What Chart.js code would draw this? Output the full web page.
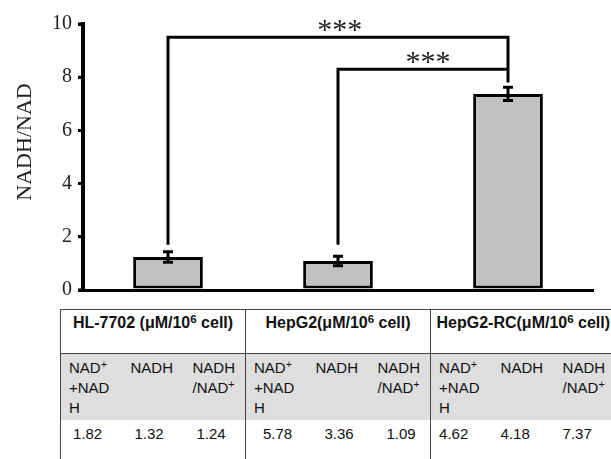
<!DOCTYPE html>
<html>
<head>
<meta charset="utf-8">
<script src="https://cdn.jsdelivr.net/npm/chart.js@4.4.1/dist/chart.umd.min.js"></script>
<style>
  html, body { margin: 0; padding: 0; background: #fff; }
  body { width: 611px; height: 459px; overflow: hidden; position: relative; }
  #wrap { position: absolute; left: 0; top: 0; width: 611px; height: 308px; }
  #tbl { position: absolute; left: 60px; top: 309px; border-collapse: collapse; table-layout: fixed; width: 555px;
         font-family: "Liberation Sans", Arial, sans-serif; color: #111; }
  #tbl td, #tbl th { padding: 0; vertical-align: top; }
  #tbl th { font-weight: bold; font-size: 16px; height: 44px; text-align: center; padding-top: 4px; box-sizing: border-box;
            border-top: 1px solid #444; border-bottom: 1px solid #444; border-left: 1px solid #444; white-space: nowrap; }
  #tbl tr.sub td { background: #dedede; font-size: 15px; line-height: 20px; height: 66px; padding-top: 4px; padding-left: 8px; box-sizing: border-box; }
  #tbl tr.val td { font-size: 15px; line-height: 20px; height: 60px; padding-top: 4px; box-sizing: border-box; }
  #tbl td.g { border-left: 1px solid #444; }
  sup { font-size: 72%; vertical-align: 0; position: relative; top: -0.45em; line-height: 0; }
</style>
</head>
<body>
<div id="wrap"><canvas id="c"></canvas></div>
<table id="tbl"></table>
<script>
// ---- data ----
const categories = ['HL-7702', 'HepG2', 'HepG2-RC'];
const ratioValues = [1.24, 1.09, 7.37];
const ratioErrors = [0.2, 0.18, 0.25];
const yTicks = [0, 2, 4, 6, 8, 10];
const yTitle = 'NADH/NAD';
// significance brackets
const bracketFrom = [0, 1];
const bracketTo = [2, 2];
const bracketStartY = [1.7, 1.7];
const bracketEndY = [7.8, 8.3];
const bracketY = [9.5, 8.3];
const bracketLabels = ['***', '***'];
const bracketLabelX = [1.01, 1.53];
// table
const tableGroups = ['HL-7702 (μM/10<sup>6</sup> cell)', 'HepG2(μM/10<sup>6</sup> cell)', 'HepG2-RC(μM/10<sup>6</sup> cell)'];
const tableSubHeaders = ['NAD<sup>+</sup><br>+NAD<br>H', 'NADH', 'NADH<br>/NAD<sup>+</sup>'];
const tableValues = [['1.82', '1.32', '1.24'], ['5.78', '3.36', '1.09'], ['4.62', '4.18', '7.37']];
const valuePad = [12, 17, 8];

(function buildTable() {
  const t = document.getElementById('tbl');
  let html = '<colgroup>';
  for (let g = 0; g < 3; g++) html += '<col style="width:62px"><col style="width:62px"><col style="width:61px">';
  html += '</colgroup><tr>';
  tableGroups.forEach(g => { html += '<th colspan="3">' + g + '</th>'; });
  html += '</tr><tr class="sub">';
  tableGroups.forEach(() => {
    tableSubHeaders.forEach((s, i) => { html += '<td' + (i === 0 ? ' class="g"' : '') + '>' + s + '</td>'; });
  });
  html += '</tr><tr class="val">';
  tableValues.forEach((row, g) => {
    row.forEach((v, i) => { html += '<td' + (i === 0 ? ' class="g"' : '') + ' style="padding-left:' + valuePad[g] + 'px">' + v + '</td>'; });
  });
  html += '</tr>';
  t.innerHTML = html;
})();

const overlay = {
  id: 'overlay',
  afterDraw(chart) {
    const ctx = chart.ctx;
    const x = chart.scales.x, y = chart.scales.y;
    const area = chart.chartArea;
    const meta = chart.getDatasetMeta(0);
    ctx.save();
    ctx.lineCap = 'butt';
    ctx.strokeStyle = '#000';
    // y axis line and ticks, reinforced
    ctx.lineWidth = 4;
    ctx.beginPath();
    ctx.moveTo(area.left, y.getPixelForValue(yTicks[yTicks.length - 1]) - 2);
    ctx.lineTo(area.left, y.getPixelForValue(0) + 1.5);
    ctx.stroke();
    ctx.lineWidth = 3;
    ctx.beginPath();
    yTicks.forEach(v => {
      const py = y.getPixelForValue(v);
      ctx.moveTo(area.left - 5, py);
      ctx.lineTo(area.left, py);
    });
    ctx.stroke();
    // error bars
    meta.data.forEach((bar, i) => {
      const top = y.getPixelForValue(ratioValues[i] + ratioErrors[i]);
      const bot = y.getPixelForValue(ratioValues[i] - ratioErrors[i]);
      ctx.beginPath();
      ctx.moveTo(bar.x, top); ctx.lineTo(bar.x, bot);
      ctx.moveTo(bar.x - 5, top); ctx.lineTo(bar.x + 5, top);
      ctx.moveTo(bar.x - 5, bot); ctx.lineTo(bar.x + 5, bot);
      ctx.stroke();
    });
    // brackets
    ctx.lineJoin = 'miter';
    for (let k = 0; k < bracketFrom.length; k++) {
      const x1 = x.getPixelForValue(bracketFrom[k]);
      const x2 = x.getPixelForValue(bracketTo[k]);
      const yb = y.getPixelForValue(bracketY[k]);
      ctx.beginPath();
      ctx.moveTo(x1, y.getPixelForValue(bracketStartY[k]));
      ctx.lineTo(x1, yb);
      ctx.lineTo(x2, yb);
      ctx.lineTo(x2, y.getPixelForValue(bracketEndY[k]));
      ctx.stroke();
      ctx.fillStyle = '#222';
      ctx.font = '30px "Liberation Serif", "Times New Roman", serif';
      ctx.textAlign = 'center';
      ctx.textBaseline = 'alphabetic';
      ctx.fillText(bracketLabels[k], x.getPixelForValue(bracketLabelX[k]), yb + 2);
    }
    // y axis title
    ctx.translate(25, (area.top + area.bottom) / 2 - 15);
    ctx.rotate(-Math.PI / 2);
    ctx.font = '22px "Liberation Serif", "Times New Roman", serif';
    ctx.fillStyle = '#222';
    ctx.textAlign = 'center';
    ctx.textBaseline = 'middle';
    ctx.fillText(yTitle, 0, 0);
    ctx.restore();
  }
};

new Chart(document.getElementById('c'), {
  type: 'bar',
  data: {
    labels: categories,
    datasets: [{
      data: ratioValues,
      backgroundColor: '#c0c0c0',
      borderColor: '#000',
      borderWidth: 3,
      borderSkipped: false,
      barPercentage: 0.41,
      categoryPercentage: 1.0
    }]
  },
  options: {
    responsive: true,
    maintainAspectRatio: false,
    animation: false,
    layout: { padding: { top: 24, right: 18, left: 0, bottom: 0 } },
    plugins: { legend: { display: false }, tooltip: { enabled: false } },
    scales: {
      x: {
        type: 'category',
        ticks: { display: false },
        grid: { display: false },
        border: { display: true, color: '#000', width: 3 },
        afterFit(scale) { scale.height = 10; }
      },
      y: {
        min: 0, max: 10,
        afterBuildTicks(scale) { scale.ticks = yTicks.map(v => ({ value: v })); },
        ticks: {
          font: { family: '"Liberation Serif", "Times New Roman", serif', size: 20 },
          color: '#222',
          padding: 6
        },
        grid: { display: true, drawOnChartArea: false, drawTicks: true, tickLength: 5, color: '#000', tickColor: '#000', lineWidth: 3 },
        border: { display: true, color: '#000', width: 3 },
        afterFit(scale) { scale.width = 83; }
      }
    }
  },
  plugins: [overlay]
});
</script>
</body>
</html>
